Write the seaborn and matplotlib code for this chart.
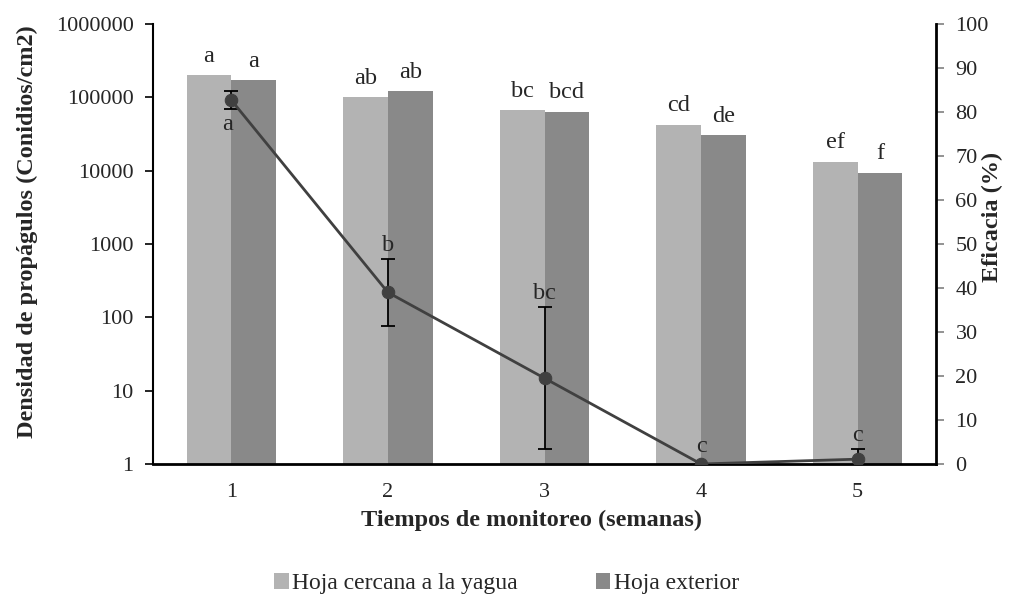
import numpy as np
import pandas as pd
import matplotlib
matplotlib.use("Agg")
import matplotlib.pyplot as plt
import seaborn as sns

# ---- data ----
semanas = ["1", "2", "3", "4", "5"]
series = ["Hoja cercana a la yagua", "Hoja exterior"]
dens_cercana = [200000, 101000, 66500, 42400, 13200]
dens_exterior = [172000, 122000, 64000, 30500, 9400]
letras_cercana = ["a", "ab", "bc", "cd", "ef"]
letras_exterior = ["a", "ab", "bcd", "de", "f"]
eficacia = [82.7, 39.0, 19.5, 0.0, 1.1]
eficacia_err = [2.0, 7.6, 16.2, 0.0, 2.4]
letras_eficacia = ["a", "b", "bc", "c", "c"]
colores = ["#b3b3b3", "#898989"]

sns.set_theme(style="white")
plt.rcParams["font.family"] = ["Liberation Serif", "DejaVu Serif"]
FS_TICK = 16
FS_LAB = 17.5
FS_LET = 17.5
FS_LEG = 17

df = pd.DataFrame({
    "semana": semanas * 2,
    "dens": dens_cercana + dens_exterior,
    "hoja": [series[0]] * 5 + [series[1]] * 5,
})

fig = plt.figure(figsize=(10.23, 5.97), dpi=100)
ax = fig.add_axes([153 / 1023, 1 - 464 / 597, (936 - 153) / 1023, (464 - 24) / 597])
ax.set_yscale("log")
sns.barplot(data=df, x="semana", y="dens", hue="hoja", palette=colores,
            width=0.57, ax=ax, saturation=1, edgecolor="none", linewidth=0)
ax.set_ylim(1, 1e6)
ax.set_xlim(-0.5, 4.5)
ax.set_yticks([1, 10, 100, 1000, 10000, 100000, 1000000])
ax.set_yticklabels(["1", "10", "100", "1000", "10000", "100000", "1000000"])
ax.yaxis.set_minor_locator(matplotlib.ticker.NullLocator())
ax.tick_params(axis="y", which="major", direction="out", length=6, width=1.2,
               color="black", labelsize=FS_TICK, pad=8, left=True)
ax.tick_params(axis="x", length=0, labelsize=FS_TICK, pad=14)
ax.set_xlabel("Tiempos de monitoreo (semanas)", fontsize=FS_LAB, fontweight="bold")
ax.xaxis.set_label_coords(0.484, -0.104)
ax.set_ylabel("Densidad de propágulos (Conidios/cm2)", fontsize=FS_LAB, fontweight="bold")
ax.yaxis.set_label_coords(-0.147, 0.527)
ax.spines["top"].set_visible(False)
ax.spines["left"].set_color("black")
ax.spines["left"].set_linewidth(1.5)
ax.spines["bottom"].set_color("black")
ax.spines["bottom"].set_linewidth(2.0)
ax.spines["right"].set_visible(False)

# letters above bars
for cont, letras in zip(ax.containers, [letras_cercana, letras_exterior]):
    for rect, l in zip(cont, letras):
        ax.annotate(l, (rect.get_x() + rect.get_width() / 2, rect.get_height()),
                    xytext=(0, 6), textcoords="offset points",
                    ha="center", va="bottom", fontsize=FS_LET)

handles, labels = ax.get_legend_handles_labels()
ax.legend(handles, labels, loc="center", bbox_to_anchor=(0.495, 0.022),
          bbox_transform=fig.transFigure, ncol=2, frameon=False, fontsize=FS_LEG,
          handlelength=0.62, handleheight=0.62, handletextpad=0.15, columnspacing=3.3)

# secondary axis: eficacia
ax2 = ax.twinx()
x = np.arange(len(semanas))
ax2.errorbar(x, eficacia, yerr=eficacia_err, fmt="none", ecolor="black",
             elinewidth=1.3, capsize=5, capthick=1.3, zorder=3)
sns.lineplot(x=x, y=eficacia, ax=ax2, color="#404040", linewidth=2,
             marker="o", markersize=9, markeredgecolor="#404040", zorder=4)
ax2.set_ylim(0, 100)
ax2.set_yticks(range(0, 101, 10))
ax2.tick_params(axis="y", direction="out", length=6, width=1.2, color="#808080",
                labelsize=FS_TICK, pad=8, right=True)
ax2.set_ylabel("Eficacia (%)", fontsize=FS_LAB, fontweight="bold")
ax2.yaxis.set_label_coords(1.0587, 0.561)
ax2.spines["top"].set_visible(False)
ax2.spines["left"].set_visible(False)
ax2.spines["bottom"].set_visible(False)
ax2.spines["right"].set_color("black")
ax2.spines["right"].set_linewidth(2.0)

for xi, (v, e, l) in enumerate(zip(eficacia, eficacia_err, letras_eficacia)):
    if xi == 0:
        ax2.annotate(l, (xi, v - e), xytext=(-3, -4), textcoords="offset points",
                     ha="center", va="top", fontsize=FS_LET)
    else:
        ax2.annotate(l, (xi, v + e), xytext=(0, 2 if e > 0 else 5), textcoords="offset points",
                     ha="center", va="bottom", fontsize=FS_LET)

fig.savefig("out.png", dpi=100)
